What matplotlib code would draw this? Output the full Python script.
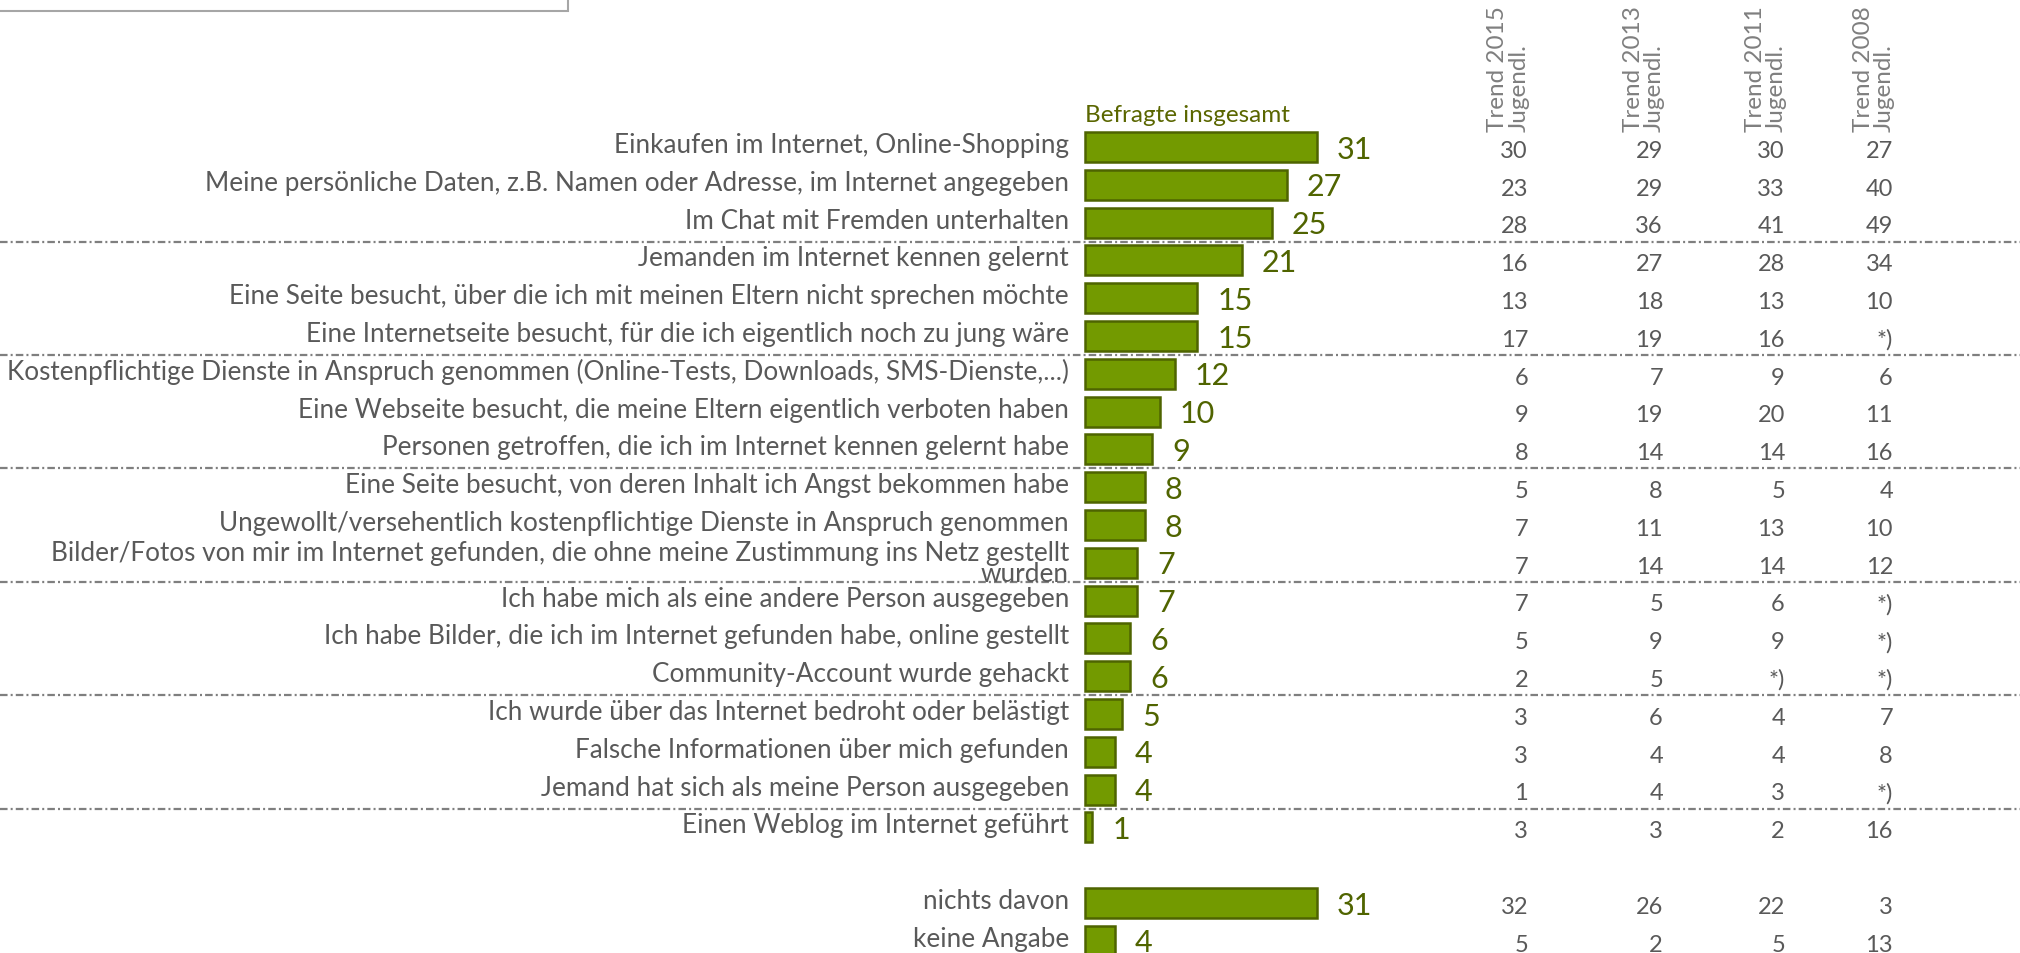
import matplotlib
matplotlib.use("Agg")
import matplotlib.pyplot as plt
from matplotlib.patches import Rectangle

plt.rcParams['font.family'] = ['Lato', 'DejaVu Sans']

# --- DATA ---
labels = [
    "Einkaufen im Internet, Online-Shopping",
    "Meine persönliche Daten, z.B. Namen oder Adresse, im Internet angegeben",
    "Im Chat mit Fremden unterhalten",
    "Jemanden im Internet kennen gelernt",
    "Eine Seite besucht, über die ich mit meinen Eltern nicht sprechen möchte",
    "Eine Internetseite besucht, für die ich eigentlich noch zu jung wäre",
    "Kostenpflichtige Dienste in Anspruch genommen (Online-Tests, Downloads, SMS-Dienste,...)",
    "Eine Webseite besucht, die meine Eltern eigentlich verboten haben",
    "Personen getroffen, die ich im Internet kennen gelernt habe",
    "Eine Seite besucht, von deren Inhalt ich Angst bekommen habe",
    "Ungewollt/versehentlich kostenpflichtige Dienste in Anspruch genommen",
    "Bilder/Fotos von mir im Internet gefunden, die ohne meine Zustimmung ins Netz gestellt\nwurden",
    "Ich habe mich als eine andere Person ausgegeben",
    "Ich habe Bilder, die ich im Internet gefunden habe, online gestellt",
    "Community-Account wurde gehackt",
    "Ich wurde über das Internet bedroht oder belästigt",
    "Falsche Informationen über mich gefunden",
    "Jemand hat sich als meine Person ausgegeben",
    "Einen Weblog im Internet geführt",
    "nichts davon",
    "keine Angabe",
]
values = [31, 27, 25, 21, 15, 15, 12, 10, 9, 8, 8, 7, 7, 6, 6, 5, 4, 4, 1, 31, 4]

trend_headers = ["Trend 2015", "Trend 2013", "Trend 2011", "Trend 2008"]
trend_2015 = [30, 23, 28, 16, 13, 17, 6, 9, 8, 5, 7, 7, 7, 5, 2, 3, 3, 1, 3, 32, 5]
trend_2013 = [29, 29, 36, 27, 18, 19, 7, 19, 14, 8, 11, 14, 5, 9, 5, 6, 4, 4, 3, 26, 2]
trend_2011 = [30, 33, 41, 28, 13, 16, 9, 20, 14, 5, 13, 14, 6, 9, "*)", 4, 4, 3, 2, 22, 5]
trend_2008 = [27, 40, 49, 34, 10, "*)", 6, 11, 16, 4, 10, 12, "*)", "*)", "*)", 7, 8, "*)", 16, 3, 13]
trends = [trend_2015, trend_2013, trend_2011, trend_2008]

# --- LAYOUT ---
W, H = 2020, 954
X0, PX = 1085, 7.48          # bar origin (px) and px per percent
Y0, ROW = 148, 37.8          # first row centre (px) and row pitch
positions = list(range(19)) + [20, 21]
separators = [2.5, 5.5, 8.5, 11.5, 14.5, 17.5]
col_right = [1528, 1663, 1785, 1893]

bar_fill = '#739A00'
bar_edge = '#4E6400'
val_col = '#506400'
txt_col = '#595959'
head_col = '#7F7F7F'

def px(x):
    return (x - X0) / PX

fig = plt.figure(figsize=(W / 100, H / 100), dpi=100)
ax = fig.add_axes([0, 0, 1, 1])
ax.set_xlim(px(0), px(W))
ax.set_ylim((H - Y0) / ROW, -Y0 / ROW)
ax.axis('off')

for y in separators:
    ax.axhline(y, color='#7F7F7F', lw=1.6, linestyle=(0, (3.4, 1.4, 0.9, 1.4)), zorder=1)

ax.barh(positions, values, height=0.79, color=bar_fill, edgecolor=bar_edge,
        linewidth=1.8, zorder=3)

for pos, lab, v in zip(positions, labels, values):
    if "\n" in lab:
        ax.text(px(X0 - 16), pos, lab, ha='right', va='center', fontsize=18.8,
                color=txt_col, linespacing=0.82, zorder=4)
    else:
        ax.text(px(X0 - 16), pos + 0.13, lab, ha='right', va='baseline',
                fontsize=18.8, color=txt_col, zorder=4)
    ax.text(v + 20 / PX, pos + 0.28, str(v), ha='left', va='baseline',
            fontsize=22, color=val_col, zorder=4)

for xr, head, col in zip(col_right, trend_headers, trends):
    ax.text(px(xr - 30), -0.42, head, rotation=90, ha='center', va='bottom',
            fontsize=17.5, color=head_col)
    ax.text(px(xr - 9), -0.42, "Jugendl.", rotation=90, ha='center', va='bottom',
            fontsize=17.5, color=head_col)
    for pos, v in zip(positions, col):
        ax.text(px(xr), pos + 0.26, str(v), ha='right', va='baseline',
                fontsize=17, color=txt_col)

ax.text(0, -0.68, "Befragte insgesamt", ha='left', va='baseline',
        fontsize=17.5, color='#5A6600')

# box remnant top left
fig.patches.append(Rectangle((-0.01, (H - 12) / H), 568 / W + 0.01, 0.2,
                             transform=fig.transFigure, fill=False,
                             edgecolor='#A6A6A6', lw=1.5))

fig.savefig('out.png', dpi=100)
